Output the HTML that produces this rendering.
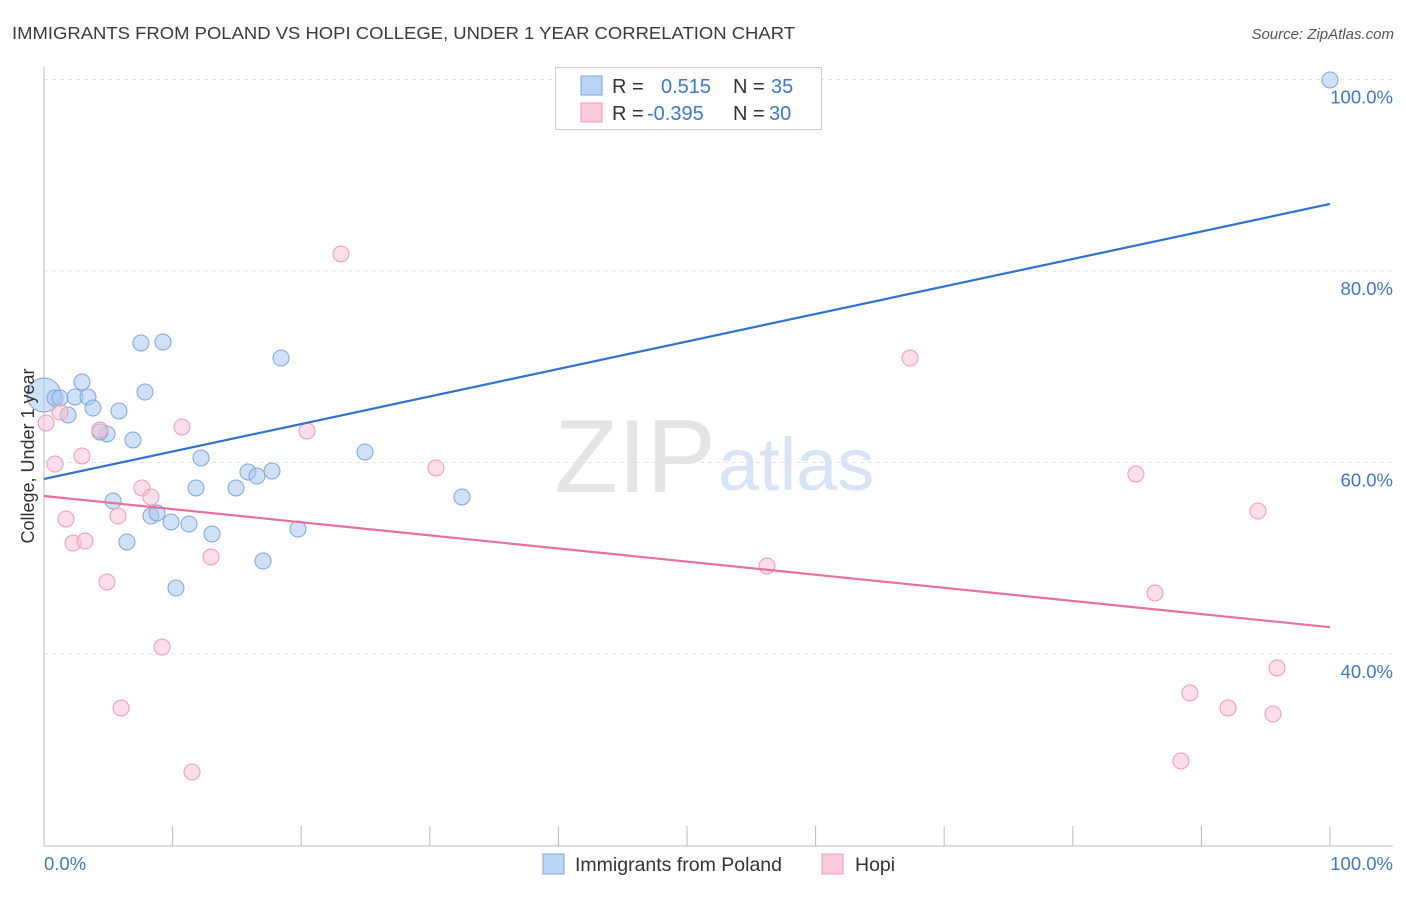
<!DOCTYPE html>
<html><head><meta charset="utf-8">
<style>
body{margin:0;background:#fff;font-family:"Liberation Sans",sans-serif;}
svg text{font-family:"Liberation Sans",sans-serif;}
</style></head>
<body>
<svg id="chart" width="1406" height="892" xmlns="http://www.w3.org/2000/svg">
<text x="12" y="39" font-size="17.5" fill="#3a3a3a" textLength="783" lengthAdjust="spacingAndGlyphs">IMMIGRANTS FROM POLAND VS HOPI COLLEGE, UNDER 1 YEAR CORRELATION CHART</text>
<text x="1394" y="39" font-size="15" fill="#555" font-style="italic" text-anchor="end">Source: ZipAtlas.com</text>
<text x="716" y="492" font-size="104" fill="#e4e4e4" text-anchor="end" font-family="Liberation Serif">ZIP</text>
<text x="718" y="490" font-size="74" fill="#d6e4f5">atlas</text>
<g id="grid"></g>
<g id="axes"></g>
<g id="marks"></g>
<text transform="translate(34,456) rotate(-90)" font-size="18" fill="#333" text-anchor="middle">College, Under 1 year</text>
<g>
<rect x="555.5" y="67.5" width="266" height="62" fill="#fff" stroke="#ccc"/>
<rect x="581" y="76" width="21" height="19" fill="#b9d3f5" stroke="#7aa6e2"/>
<rect x="581" y="103" width="21" height="19" fill="#fbc9d8" stroke="#f09ab4"/>
<text x="612" y="93" font-size="20" fill="#333">R =</text>
<text x="661" y="93" font-size="20" fill="#3b78d0">0.515</text>
<text x="733" y="93" font-size="20" fill="#333">N =</text>
<text x="771" y="93" font-size="20" fill="#3b78d0">35</text>
<text x="612" y="120" font-size="20" fill="#333">R =</text>
<text x="647" y="120" font-size="20" fill="#3b78d0">-0.395</text>
<text x="733" y="120" font-size="20" fill="#333">N =</text>
<text x="769" y="120" font-size="20" fill="#3b78d0">30</text>
</g>
<g>
<rect x="543" y="854" width="21" height="20" fill="#b9d3f5" stroke="#7aa6e2"/>
<text x="575" y="871" font-size="19.5" fill="#333">Immigrants from Poland</text>
<rect x="822" y="854" width="21" height="20" fill="#fbc9d8" stroke="#f09ab4"/>
<text x="855" y="871" font-size="19.5" fill="#333">Hopi</text>
</g>
</svg>
<script>
const polandX=[0,0.86,1.24,1.87,2.41,2.95,3.42,3.81,4.90,4.35,5.37,5.83,6.45,6.92,7.54,7.85,8.32,8.79,9.25,9.88,10.26,11.28,11.82,12.21,13.06,14.93,15.86,16.56,17.03,17.73,18.43,19.75,24.96,32.50,100];
const polandY=[67.05,66.74,66.74,64.96,66.84,68.41,66.84,65.69,62.98,63.19,55.98,65.38,51.70,62.35,72.48,67.36,54.41,54.73,72.58,53.79,46.89,53.58,57.34,60.47,52.53,57.34,59.01,58.59,49.71,59.11,70.91,53.05,61.10,56.40,99.95];
const hopiX=[0.16,0.86,1.24,1.71,2.26,2.95,3.19,4.35,4.90,5.75,5.99,7.62,8.32,9.18,10.73,11.51,12.99,20.45,23.09,30.48,56.22,67.34,84.91,86.39,88.41,89.11,92.07,94.40,95.57,95.88];
const hopiY=[64.13,59.84,65.27,54.10,51.59,60.68,51.80,63.39,47.52,54.41,34.36,57.34,56.40,40.73,63.71,27.68,50.13,63.29,81.78,59.43,49.19,70.91,58.80,46.37,28.83,35.93,34.36,54.93,33.73,38.54];
const polandTrend=[58.28,87.0];
const hopiTrend=[56.5,42.8];
const yTicks=[40,60,80,100];
const yTickLabels=["40.0%","60.0%","80.0%","100.0%"];
const xTickLabels=["0.0%","100.0%"];

const NS="http://www.w3.org/2000/svg";
const sx=v=>44+v*12.86;
const sy=v=>1037-v*9.575;
function mk(tag,attrs,parent){const e=document.createElementNS(NS,tag);for(const k in attrs)e.setAttribute(k,attrs[k]);parent.appendChild(e);return e;}
const grid=document.getElementById('grid'),axes=document.getElementById('axes'),marks=document.getElementById('marks');
yTicks.forEach((t,i)=>{
  const l=mk('line',{x1:44,x2:1393,y1:sy(t),y2:sy(t),stroke:'#e3e3e3','stroke-dasharray':'4,4'},grid);
  
  
  const tx=mk('text',{x:1393,y:sy(t)+24,'font-size':18.5,fill:'#3b78d0','text-anchor':'end'},axes);
  tx.textContent=yTickLabels[i];
  
  
});
const xa=mk('line',{x1:44,x2:1393,y1:846,y2:846,stroke:'#bbb'},axes);


const ya=mk('line',{x1:44,x2:44,y1:67,y2:846,stroke:'#bbb'},axes);


for(let i=0;i<=10;i++){
  const tk=mk('line',{x1:sx(i*10),x2:sx(i*10),y1:826,y2:846,stroke:'#bbb'},axes);
  
  
}
[[0,'start'],[100,'end']].forEach((p,i)=>{
  const tx=mk('text',{x:i?1393:44,y:870,'font-size':18.5,fill:'#3b78d0','text-anchor':p[1]},axes);
  tx.textContent=xTickLabels[i];
  
  
});
polandX.forEach((x,i)=>{
  const c=mk('circle',{cx:sx(x),cy:sy(polandY[i]),r:i===0?17:8,fill:'rgba(169,200,240,0.55)',stroke:'#7aa6e2','stroke-width':1},marks);
  
  
});
hopiX.forEach((x,i)=>{
  const c=mk('circle',{cx:sx(x),cy:sy(hopiY[i]),r:8,fill:'rgba(248,190,208,0.5)',stroke:'#f09ab4','stroke-width':1},marks);
  
  
});
const bl=mk('line',{x1:sx(0),x2:sx(100),y1:sy(polandTrend[0]),y2:sy(polandTrend[1]),stroke:'#2f72d4','stroke-width':2.2},marks);


const pl=mk('line',{x1:sx(0),x2:sx(100),y1:sy(hopiTrend[0]),y2:sy(hopiTrend[1]),stroke:'#e8709a','stroke-width':2.2},marks);


</script>
</body></html>
